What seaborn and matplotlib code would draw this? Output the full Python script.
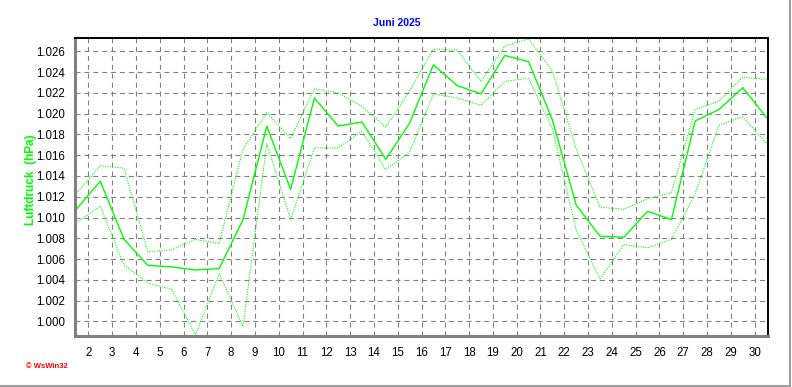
import pandas as pd
import matplotlib
matplotlib.use("Agg")
import matplotlib.pyplot as plt
import seaborn as sns
from matplotlib.ticker import MultipleLocator, FuncFormatter
from matplotlib.lines import Line2D

# Daily air pressure for June 2025 (hPa)
days = list(range(1, 31))
mean_hpa = [1010.8, 1013.5, 1007.9, 1005.4, 1005.25, 1004.95, 1005.1, 1009.8, 1018.8, 1012.7,
            1021.5, 1018.8, 1019.2, 1015.6, 1019.1, 1024.7, 1022.7, 1021.9, 1025.6, 1025.0,
            1019.4, 1011.2, 1008.2, 1008.1, 1010.6, 1009.8, 1019.3, 1020.4, 1022.5, 1019.6]
max_hpa = [1012.3, 1015.0, 1014.75, 1006.7, 1006.9, 1007.9, 1007.5, 1016.6, 1020.1, 1017.6,
           1022.4, 1022.0, 1020.7, 1018.7, 1022.2, 1026.2, 1026.1, 1023.1, 1026.5, 1027.2,
           1024.1, 1016.6, 1011.0, 1010.8, 1011.8, 1012.4, 1020.4, 1021.2, 1023.5, 1023.3]
min_hpa = [1009.5, 1011.1, 1005.4, 1003.7, 1003.1, 998.7, 1004.6, 999.5, 1017.1, 1009.8,
           1016.7, 1016.7, 1018.3, 1014.6, 1016.3, 1021.9, 1021.5, 1020.8, 1023.1, 1023.4,
           1018.5, 1008.8, 1004.1, 1007.4, 1007.1, 1007.9, 1012.3, 1018.9, 1019.7, 1017.1]

df = pd.DataFrame({"day": days, "mean": mean_hpa, "max": max_hpa, "min": min_hpa})
# daily values are drawn at noon of each day
df["t"] = df["day"] + 0.5

sns.set_style("white")
plt.rcParams["font.family"] = ["Liberation Sans", "DejaVu Sans"]

fig = plt.figure(figsize=(7.92, 3.87), dpi=100)
ax = fig.add_axes([75 / 792, 51 / 387, 693 / 792, 298 / 387])

green = "#00ff00"
grid_grey = "#808080"

sns.lineplot(data=df, x="t", y="max", ax=ax, color=green, linewidth=0.8, linestyle=(0, (1, 1.2)))
sns.lineplot(data=df, x="t", y="min", ax=ax, color=green, linewidth=0.8, linestyle=(0, (1, 1.2)))
sns.lineplot(data=df, x="t", y="mean", ax=ax, color=green, linewidth=1.0)

ax.set_xlim(1.44, 30.56)
ax.set_ylim(998.6, 1027.28)

ax.xaxis.set_minor_locator(MultipleLocator(0.125))
ax.set_xticks(range(2, 31))
ax.yaxis.set_major_locator(MultipleLocator(2))
ax.yaxis.set_minor_locator(MultipleLocator(1))
ax.yaxis.set_major_formatter(FuncFormatter(lambda v, p: f"{v / 1000:.3f}"))

ax.grid(True, which="major", color=grid_grey, linestyle=(0, (4.5, 3.5)), linewidth=0.8)
ax.set_axisbelow(True)

ax.tick_params(axis="both", which="major", labelsize=8.3, colors="#404040", labelcolor="black")
ax.tick_params(axis="x", which="major", direction="out", length=3, width=0.8, pad=5)
ax.tick_params(axis="x", which="minor", direction="out", length=2, width=0.8, colors="#404040")
ax.tick_params(axis="y", which="major", direction="out", length=4, width=0.8, pad=3)
ax.tick_params(axis="y", which="minor", direction="in", length=2, width=0.8, colors="#404040")

for side in ["left", "bottom"]:
    ax.spines[side].set_color(grid_grey)
    ax.spines[side].set_linewidth(2.2)
for side in ["top", "right"]:
    ax.spines[side].set_color("black")
    ax.spines[side].set_linewidth(1.4)
    ax.spines[side].set_visible(True)

ax.set_xlabel("")
ax.set_ylabel("")

fig.text(397 / 792, 1 - 23 / 387, "Juni 2025", color="#0000ff", fontsize=7.5,
         fontweight="bold", ha="center", va="center")
fig.text(31 / 792, 1 - 180 / 387, "Luftdruck  (hPa)", color=green, fontsize=8.5,
         fontweight="bold", rotation=90, ha="center", va="center")
fig.text(26 / 792, 1 - 367 / 387, "\u00a9 WsWin32", color="#ff0000", fontsize=5.5,
         fontweight="bold", ha="left", va="center")

# grey frame lines at the right and bottom edge of the picture
fig.add_artist(Line2D([790 / 792, 790 / 792], [1 / 387, 1], color="#a0a0a0", linewidth=1.5,
                      transform=fig.transFigure))
fig.add_artist(Line2D([0, 790 / 792], [1.5 / 387, 1.5 / 387], color="#a0a0a0", linewidth=1.5,
                      transform=fig.transFigure))

fig.savefig("out.png", dpi=100, facecolor="white")
